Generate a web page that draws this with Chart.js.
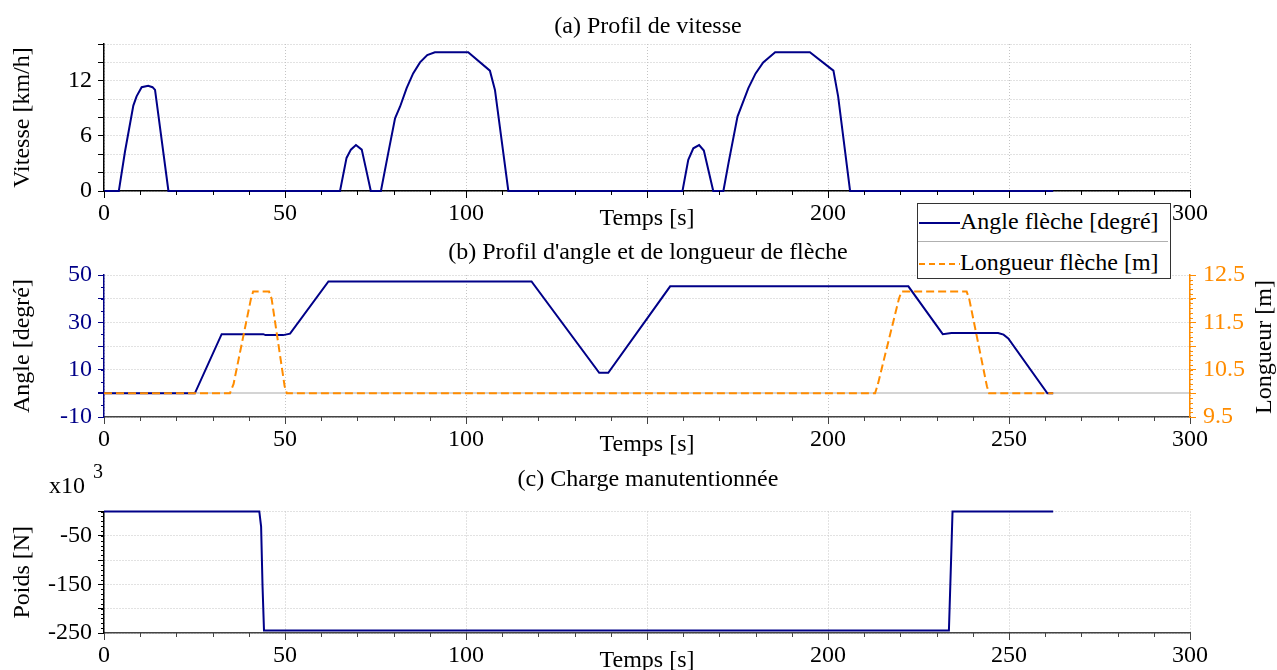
<!DOCTYPE html>
<html>
<head>
<meta charset="UTF-8">
<title>Profils</title>
<script src="https://cdn.jsdelivr.net/npm/chart.js"></script>
<style>
    body {
        margin: 0;
        width: 1277px;
        height: 670px;
        overflow: hidden;
        background: #fff;
        position: relative;
        font-family: 'Liberation Serif', serif;
    }
    canvas { position: absolute; left: 0; }
    .txt {
        position: absolute;
        font-size: 24px;
        line-height: 28px;
        white-space: nowrap;
        color: #000;
        transform: translate(-50%, -50%);
    }
    #legend {
        position: absolute;
        left: 917px;
        top: 203px;
        width: 252px;
        height: 74px;
        border: 1.5px solid #333;
        background: #fff;
        z-index: 5;
    }
    #legend .row {
        position: absolute;
        left: 0;
        height: 28px;
        font-size: 24px;
        line-height: 28px;
        white-space: nowrap;
    }
    #legend svg { vertical-align: middle; }
    #legend .sep {
        position: absolute;
        left: 0;
        top: 37px;
        width: 250px;
        border-top: 1px solid #b0b0b0;
    }
</style>
</head>
<body>
<canvas id="chartA" width="1277" height="233" style="top:0px"></canvas>
<canvas id="chartB" width="1277" height="219" style="top:240px"></canvas>
<canvas id="chartC" width="1277" height="215" style="top:460px"></canvas>

<div class="txt" style="left:648px; top:25px">(a) Profil de vitesse</div>
<div class="txt" style="left:648px; top:251px">(b) Profil d'angle et de longueur de flèche</div>
<div class="txt" style="left:648px; top:478px">(c) Charge manutentionnée</div>
<div class="txt" style="left:1263px; top:347px; transform: translate(-50%, -50%) rotate(-90deg)">Longueur [m]</div>
<div class="txt" style="left:67px; top:485px">x10</div>
<div class="txt" style="left:98px; top:471px; font-size:20px">3</div>

<div id="legend">
    <div class="row" style="top:3px"><svg width="42" height="4"><line x1="1" y1="2" x2="42" y2="2" stroke="#000088" stroke-width="2"/></svg>Angle flèche [degré]</div>
    <div class="sep"></div>
    <div class="row" style="top:44px"><svg width="42" height="4"><line x1="1" y1="2" x2="42" y2="2" stroke="#ff8c00" stroke-width="2" stroke-dasharray="6,4"/></svg>Longueur flèche [m]</div>
</div>

<script>
    // (a) vitesse [km/h] en fonction du temps [s]
    var vitT = [0, 4.1, 5.8, 8.1, 9.0, 10.4, 12.2, 13.4, 14.1, 17.8,
                65.2, 67.0, 68.2, 69.6, 71.2, 72.6, 73.7,
                76.5, 78.5, 80.4, 81.8, 83.6, 85.4, 87.3, 89.3, 91.4,
                100.6, 106.6, 108.0, 111.7,
                159.8, 161.4, 162.8, 164.4, 165.7, 168.3,
                171.1, 172.5, 175.0, 178.0, 180.0, 182.1, 185.4,
                195.0, 201.5, 202.8, 206.1, 262.2];
    var vitV = [0, 0, 4.3, 9.3, 10.3, 11.3, 11.45, 11.3, 11.0, 0,
                0, 3.6, 4.5, 5.0, 4.5, 2.0, 0,
                0, 4.1, 7.9, 9.2, 11.2, 12.8, 14.0, 14.8, 15.1,
                15.1, 13.1, 11.0, 0,
                0, 3.4, 4.65, 5.0, 4.4, 0,
                0, 3.0, 8.1, 11.2, 12.8, 14.0, 15.1,
                15.1, 13.1, 10.3, 0, 0];

    // (b) angle de flèche [degré]
    var angT = [0, 25.1, 32.5, 44.0, 44.6, 49.5, 51.4, 62.0, 118.1, 136.8, 139.3, 156.4,
                222.2, 231.7, 234.1, 247.0, 248.5, 249.8, 260.6, 262.2];
    var angV = [0, 0, 25, 25, 24.6, 24.6, 25.2, 47.3, 47.3, 8.7, 8.7, 45.2,
                45.2, 25, 25.5, 25.5, 24.8, 23.2, 0, 0];

    // (b) longueur de flèche [m]
    var lonT = [0, 34.8, 35.8, 40.6, 41.2, 45.6, 46.3, 49.9, 50.5,
                213.0, 213.8, 219.6, 220.3, 238.3, 239.0, 243.9, 244.5, 262.2];
    var lonV = [10, 10, 10.2, 12.0, 12.15, 12.15, 12.0, 10.15, 10,
                10, 10.2, 12.0, 12.15, 12.15, 12.0, 10.15, 10, 10];

    // (c) poids [x10^3 N]
    var poiT = [0, 42.9, 43.4, 43.8, 44.2, 233.4, 234.0, 234.4, 262.2];
    var poiV = [0, 0, -31, -155, -245, -245, -100, 0, 0];

    // etiquettes des axes (150 est masque par le titre "Temps [s]")
    var ticksTemps = [0, 50, 100, 200, 250, 300];
    var ticksVitesse = [0, 6, 12];
    var ticksAngle = [50, 30, 10, -10];
    var ticksLongueur = [9.5, 10.5, 11.5, 12.5];
    var ticksPoids = [-50, -150, -250];

    var bleu = '#000088';
    var orange = '#ff8c00';
    var grille = '#c4c4c4';

    Chart.defaults.font.family = "'Liberation Serif', serif";
    Chart.defaults.font.size = 24;
    Chart.defaults.color = '#000';

    function pts(t, v) {
        return t.map(function (x, i) { return { x: x, y: v[i] }; });
    }

    function has(list, v) {
        return list.some(function (a) { return Math.abs(a - v) < 1e-6; });
    }

    // petites graduations
    var minorTicks = {
        id: 'minorTicks',
        afterDraw: function (chart, args, opts) {
            var ctx = chart.ctx;
            Object.keys(chart.scales).forEach(function (id) {
                var m = opts[id];
                if (!m) return;
                var s = chart.scales[id];
                ctx.save();
                ctx.strokeStyle = s.options.border.color;
                ctx.lineWidth = 1;
                ctx.beginPath();
                var n = Math.round((s.max - s.min) / m.step);
                for (var i = 0; i <= n; i++) {
                    var p = Math.round(s.getPixelForValue(s.min + i * m.step)) + 0.5;
                    if (s.isHorizontal()) {
                        ctx.moveTo(p, s.top); ctx.lineTo(p, s.top + m.len);
                    } else if (s.position === 'left') {
                        ctx.moveTo(s.right, p); ctx.lineTo(s.right - m.len, p);
                    } else {
                        ctx.moveTo(s.left, p); ctx.lineTo(s.left + m.len, p);
                    }
                }
                ctx.stroke();
                ctx.restore();
            });
        }
    };

    function xScale(col) {
        return {
            type: 'linear', min: 0, max: 300,
            ticks: {
                stepSize: 50, padding: 1, autoSkip: false, maxRotation: 0, color: '#000',
                callback: function (v) { return has(ticksTemps, v) ? v : ''; }
            },
            grid: { color: grille, tickColor: col, tickLength: 7 },
            border: { color: col, width: 1.5, dash: [1, 2] },
            title: { display: true, text: 'Temps [s]', color: '#000', padding: 0 },
            afterFit: function (s) { s.height = 42; }
        };
    }

    function baseOptions(padTop, padRight) {
        return {
            responsive: false,
            animation: false,
            layout: { padding: { top: padTop, right: padRight, left: 0, bottom: 0 } },
            plugins: { legend: { display: false }, tooltip: { enabled: false }, title: { display: false } },
            elements: { point: { radius: 0 }, line: { tension: 0 } }
        };
    }

    // (a)
    var optA = baseOptions(44, 87);
    optA.scales = {
        x: xScale('#000'),
        y: {
            min: 0, max: 16,
            ticks: {
                stepSize: 2, padding: 6, autoSkip: false, color: '#000',
                callback: function (v) { return has(ticksVitesse, v) ? v : ''; }
            },
            grid: { color: grille, tickColor: '#000', tickLength: 6 },
            border: { color: '#000', width: 1.5, dash: [1, 2] },
            title: { display: true, text: 'Vitesse [km/h]', color: '#000', padding: { top: 8, bottom: 0 } },
            afterFit: function (s) { s.width = 104; }
        }
    };
    optA.plugins.minorTicks = { x: { step: 10, len: 4 } };
    new Chart(document.getElementById('chartA'), {
        type: 'line',
        data: { datasets: [{ data: pts(vitT, vitV), borderColor: bleu, borderWidth: 2, clip: false }] },
        options: optA,
        plugins: [minorTicks]
    });

    // (b)
    var optB = baseOptions(35, 0);
    optB.scales = {
        x: xScale('#444'),
        y: {
            position: 'left', min: -10, max: 50,
            ticks: {
                stepSize: 10, padding: 6, autoSkip: false, color: bleu,
                callback: function (v) { return has(ticksAngle, v) ? v : ''; }
            },
            grid: {
                color: function (c) { return c.tick && c.tick.value === 0 ? '#d4d4d4' : grille; },
                lineWidth: function (c) { return c.tick && c.tick.value === 0 ? 2 : 1; },
                tickColor: bleu, tickLength: 6
            },
            border: {
                color: bleu, width: 1.5,
                dash: function (c) { return c.tick && c.tick.value === 0 ? [] : [1, 2]; }
            },
            title: { display: true, text: 'Angle [degré]', color: '#000', padding: { top: 8, bottom: 0 } },
            afterFit: function (s) { s.width = 104; }
        },
        y2: {
            position: 'right', min: 9.5, max: 12.5,
            ticks: {
                stepSize: 0.5, padding: 7, autoSkip: false, color: orange,
                callback: function (v) { return has(ticksLongueur, v) ? v.toFixed(1) : ''; }
            },
            grid: { drawOnChartArea: false, tickColor: orange, tickLength: 6 },
            border: { color: orange, width: 1.5 },
            afterFit: function (s) { s.width = 87; }
        }
    };
    optB.plugins.minorTicks = { x: { step: 10, len: 4 }, y: { step: 5, len: 3 }, y2: { step: 0.1, len: 3 } };
    new Chart(document.getElementById('chartB'), {
        type: 'line',
        data: {
            datasets: [
                { data: pts(lonT, lonV), yAxisID: 'y2', borderColor: orange, borderWidth: 2, borderDash: [8, 4], order: 0 },
                { data: pts(angT, angV), yAxisID: 'y', borderColor: bleu, borderWidth: 2, order: 1 }
            ]
        },
        options: optB,
        plugins: [minorTicks]
    });

    // (c)
    var optC = baseOptions(51.5, 87);
    optC.scales = {
        x: xScale('#444'),
        y: {
            min: -250, max: 0,
            ticks: {
                stepSize: 50, padding: 6, autoSkip: false, color: '#000',
                callback: function (v) { return has(ticksPoids, v) ? v : ''; }
            },
            grid: { color: grille, tickColor: '#000', tickLength: 6 },
            border: { color: '#000', width: 1.5, dash: [1, 2] },
            title: { display: true, text: 'Poids [N]', color: '#000', padding: { top: 8, bottom: 0 } },
            afterFit: function (s) { s.width = 104; }
        }
    };
    optC.plugins.minorTicks = { x: { step: 10, len: 4 }, y: { step: 10, len: 3 } };
    new Chart(document.getElementById('chartC'), {
        type: 'line',
        data: { datasets: [{ data: pts(poiT, poiV), borderColor: bleu, borderWidth: 2, clip: false }] },
        options: optC,
        plugins: [minorTicks]
    });
</script>
</body>
</html>
